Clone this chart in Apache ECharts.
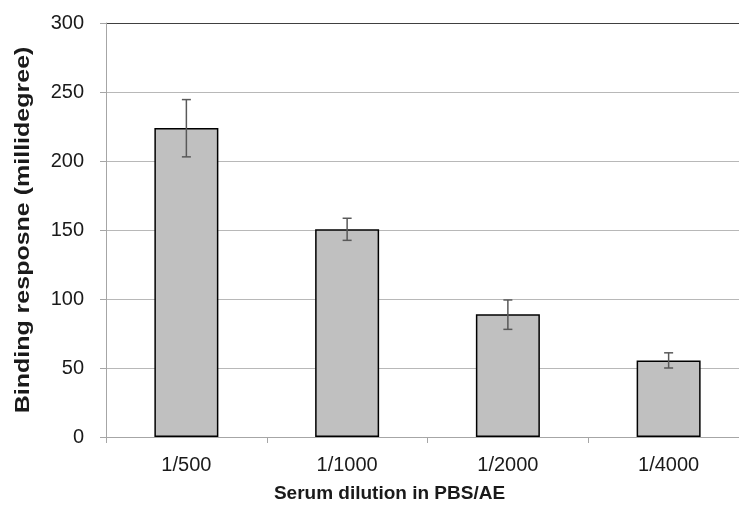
<!DOCTYPE html>
<html>
<head>
<meta charset="utf-8">
<script src="https://cdn.jsdelivr.net/npm/echarts@6/dist/echarts.min.js"></script>
<style>html,body{margin:0;padding:0;background:#fff;}#c{width:739px;height:508px;}</style>
</head>
<body>
<div id="c"></div>
<script>
var categories = ['1/500', '1/1000', '1/2000', '1/4000'];
var values = [224, 150.5, 89, 55.5];
var errLow = [203, 142.5, 78, 50];
var errHigh = [244.5, 158.5, 99.3, 61];
var yTicks = {min: 0, max: 300, interval: 50};
var xTitle = 'Serum dilution in PBS/AE';
var yTitle = 'Binding resposne (millidegree)';

var chart = echarts.init(document.getElementById('c'), null, {renderer: 'canvas'});
var font = 'Liberation Sans, Arial, sans-serif';
chart.setOption({
  animation: false,
  grid: {left: 106, width: 643, top: 23, bottom: 71, containLabel: false, outerBoundsMode: 'none'},
  xAxis: {
    type: 'category',
    data: categories,
    axisLine: {lineStyle: {color: '#a6a6a6', width: 1}},
    axisTick: {show: true, alignWithLabel: false, length: 6, lineStyle: {color: '#a6a6a6'}},
    axisLabel: {color: '#1a1a1a', fontSize: 20, fontFamily: font, margin: 18},
    name: xTitle,
    nameLocation: 'middle',
    nameGap: 47,
    nameTextStyle: {color: '#1a1a1a', fontSize: 19, fontWeight: 'bold', fontFamily: font, padding: [0, 0, 0, -76]}
  },
  yAxis: {
    type: 'value',
    min: yTicks.min, max: yTicks.max, interval: yTicks.interval,
    axisLine: {show: true, lineStyle: {color: '#a6a6a6', width: 1}},
    axisTick: {show: true, length: 6, lineStyle: {color: '#a6a6a6'}},
    axisLabel: {color: '#1a1a1a', fontSize: 20, fontFamily: font, margin: 22},
    splitLine: {show: true, lineStyle: {color: ['#b8b8b8','#b8b8b8','#b8b8b8','#b8b8b8','#b8b8b8','#b8b8b8','#404040'], width: 1}}
  },
  graphic: [{
    type: 'text',
    x: 23, y: 230,
    rotation: Math.PI / 2,
    scaleX: 1.25,
    style: {text: yTitle, font: 'bold 20px Liberation Sans, Arial, sans-serif', fill: '#1a1a1a', align: 'center', verticalAlign: 'middle'}
  }],
  series: [
    {
      type: 'bar',
      data: values,
      barWidth: 64,
      itemStyle: {color: '#c0c0c0', borderColor: '#000', borderWidth: 1.5},
      z: 2
    },
    {
      type: 'custom',
      z: 3,
      data: categories.map(function (c, i) { return [i, errLow[i], errHigh[i]]; }),
      renderItem: function (params, api) {
        var x = api.value(0);
        var lo = api.coord([x, api.value(1)]);
        var hi = api.coord([x, api.value(2)]);
        var hw = 4.5;
        var st = {stroke: '#595959', lineWidth: 1.5};
        return {
          type: 'group',
          children: [
            {type: 'line', shape: {x1: lo[0], y1: lo[1], x2: hi[0], y2: hi[1]}, style: st},
            {type: 'line', shape: {x1: lo[0] - hw, y1: lo[1], x2: lo[0] + hw, y2: lo[1]}, style: st},
            {type: 'line', shape: {x1: hi[0] - hw, y1: hi[1], x2: hi[0] + hw, y2: hi[1]}, style: st}
          ]
        };
      }
    }
  ]
});
</script>
</body>
</html>
